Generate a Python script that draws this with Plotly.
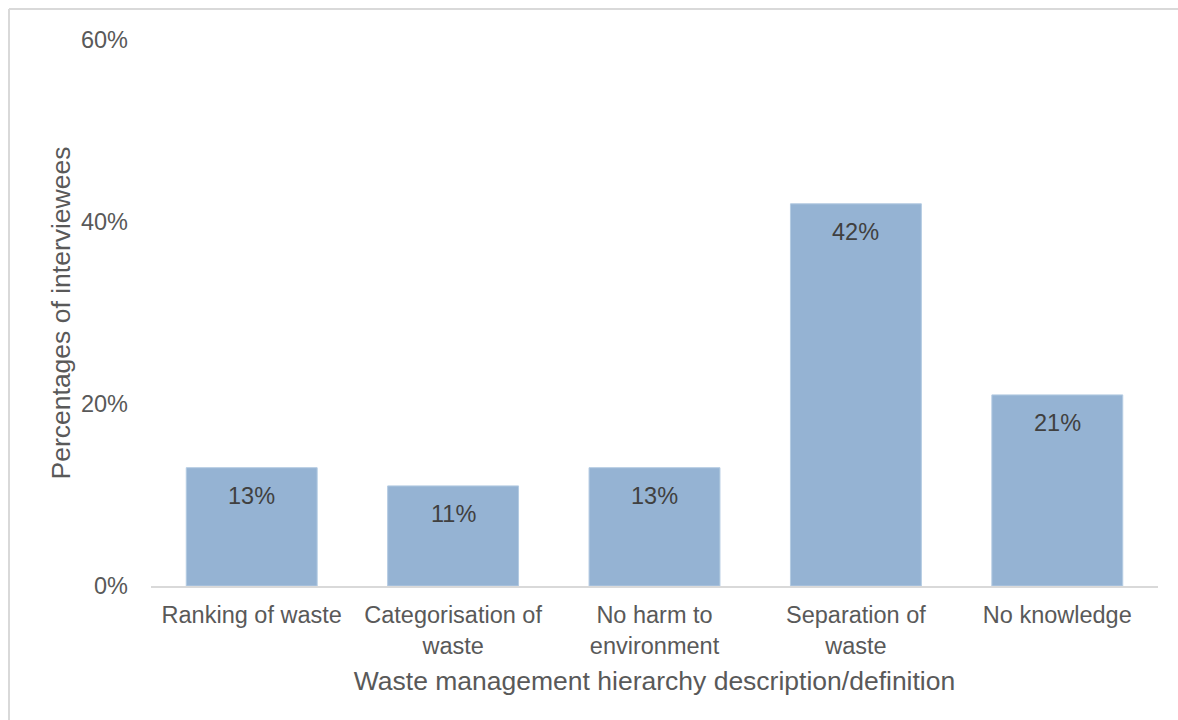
import plotly.graph_objects as go

categories = ["Ranking of waste", "Categorisation of<br>waste", "No harm to<br>environment",
              "Separation of<br>waste", "No knowledge"]
values = [13, 11, 13, 42, 21]
y_ticks = [0, 20, 40, 60]
y_tick_labels = ["0%", "20%", "40%", "60%"]

W, H = 1178, 720
L, R, T, B = 151, 20, 40, 134
pw, ph = W - L - R, H - T - B
FONT = "Liberation Sans, Arial, sans-serif"

def px_x(x):
    return (x - L) / pw

def px_y(y):
    return (H - B - y) / ph

fig = go.Figure(go.Bar(
    x=categories,
    y=values,
    width=0.65,
    marker=dict(color="#95B3D3", line=dict(color="#B4CBE2", width=1)),
    hoverinfo="x+y",
))

# value labels just below the top of each bar
for c, v in zip(categories, values):
    fig.add_annotation(
        x=c, y=v, text=f"{v}%", showarrow=False,
        yanchor="top", yshift=-13,
        font=dict(family=FONT, size=23.5, color="#404040"),
    )

fig.update_layout(
    width=W, height=H,
    margin=dict(l=L, r=R, t=T, b=B),
    paper_bgcolor="white",
    plot_bgcolor="white",
    font=dict(family=FONT, color="#595959"),
    showlegend=False,
    xaxis=dict(
        showline=True, linecolor="#D9D9D9", linewidth=2,
        ticks="", tickfont=dict(size=23.5, color="#595959"),
        ticklabelstandoff=7,
        title=dict(text="Waste management hierarchy description/definition",
                   font=dict(size=26.5, color="#595959"), standoff=14),
        showgrid=False,
    ),
    yaxis=dict(
        range=[0, 60],
        tickvals=y_ticks, ticktext=y_tick_labels,
        tickfont=dict(size=23.5, color="#595959"),
        showgrid=False, zeroline=False, showline=False, ticks="",
        ticklabelstandoff=22,
        title=dict(text="Percentages of interviewees",
                   font=dict(size=26.5, color="#595959"), standoff=2),
    ),
    shapes=[
        dict(type="line", xref="paper", yref="paper",
             x0=px_x(9), x1=px_x(W + 10), y0=px_y(9), y1=px_y(9),
             line=dict(color="#D9D9D9", width=2)),
        dict(type="line", xref="paper", yref="paper",
             x0=px_x(9), x1=px_x(9), y0=px_y(9), y1=px_y(H + 10),
             line=dict(color="#D9D9D9", width=2)),
    ],
)

fig.write_html("out.html")
